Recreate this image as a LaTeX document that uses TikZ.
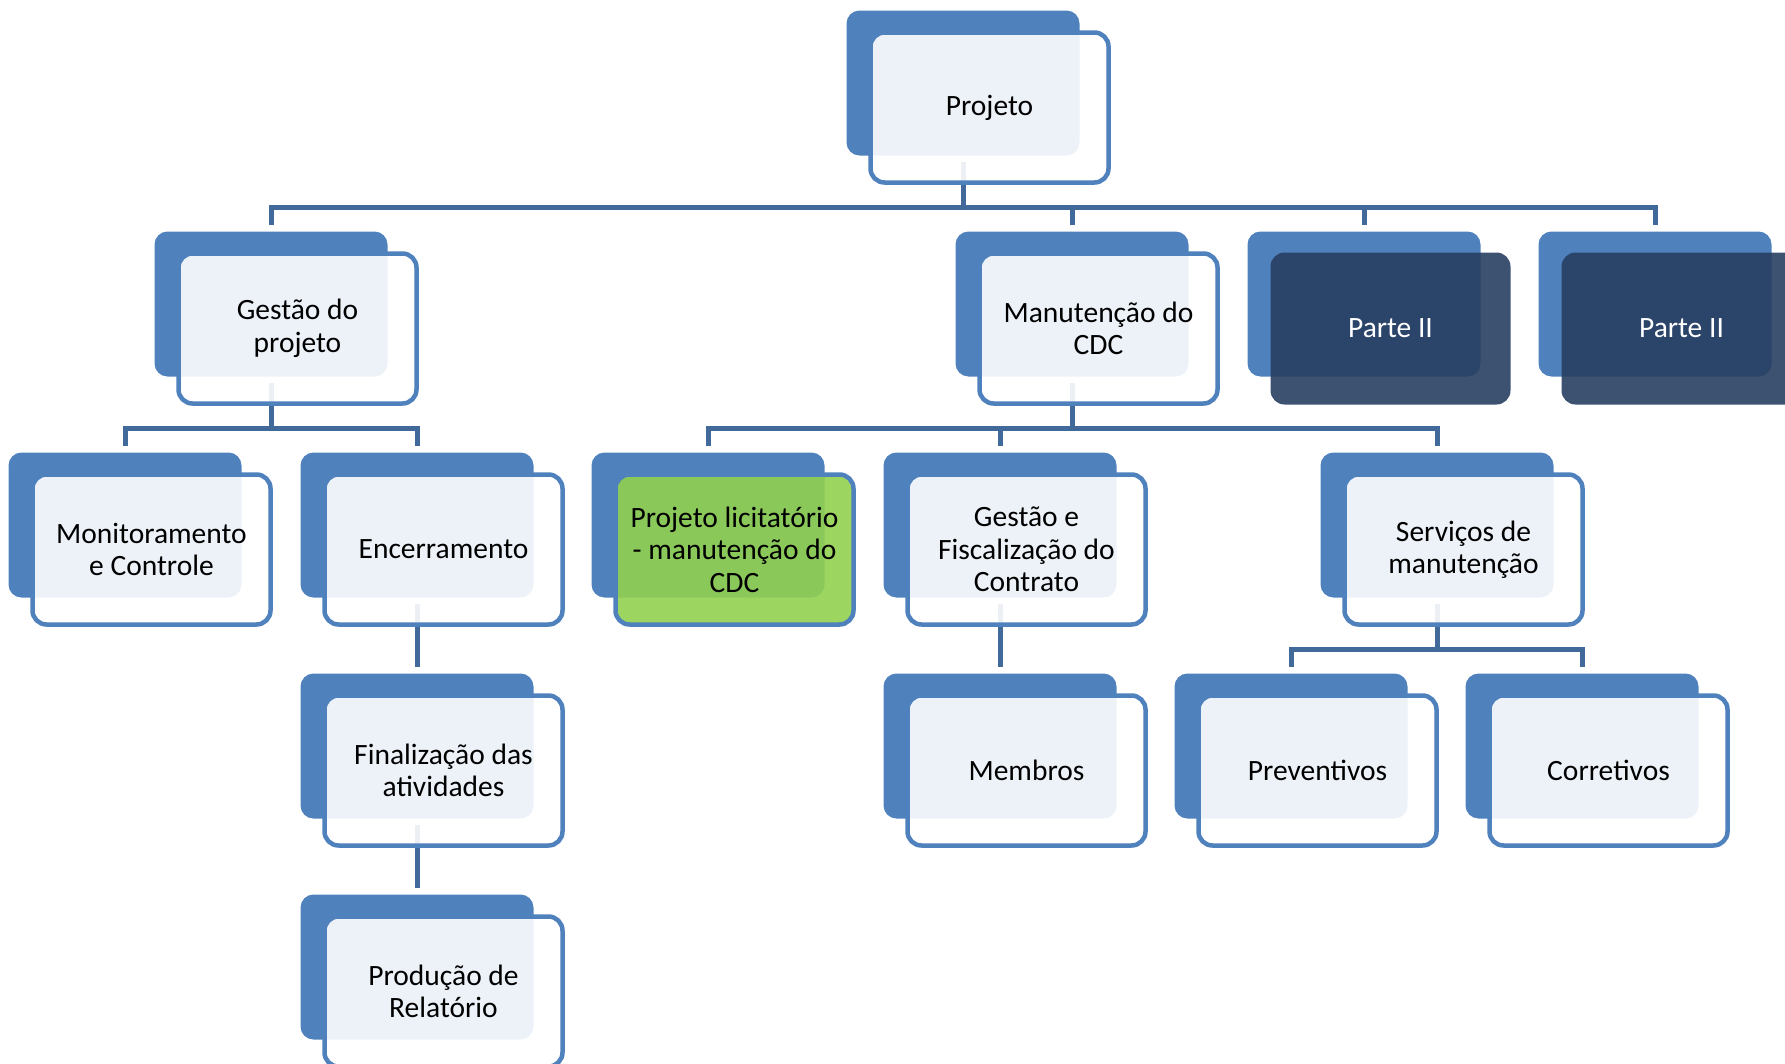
\documentclass[tikz,border=0pt]{standalone}
\usepackage{fontspec}
\setmainfont{Carlito}
\usepackage{tikz}
\usetikzlibrary{positioning}
\definecolor{boxblue}{HTML}{4F81BD}
\definecolor{linkblue}{HTML}{41699A}
\definecolor{greenfill}{HTML}{92D050}
\definecolor{navyfill}{HTML}{283E61}
\tikzset{
  backbox/.style={rectangle,rounded corners=13bp,fill=boxblue,minimum width=233bp,minimum height=145bp,inner sep=0pt},
  frontbox/.style={rectangle,rounded corners=14bp,draw=boxblue,line width=4.5bp,fill=white,fill opacity=0.9,text opacity=1,minimum width=238bp,minimum height=150bp,inner sep=0pt,align=center,font=\fontsize{29.5bp}{32.5bp}\selectfont,xshift=26.5bp,yshift=-24.5bp},
  greenfront/.style={frontbox,fill=greenfill},
  navyfront/.style={frontbox,draw=none,fill=navyfill,text=white,minimum width=240bp,minimum height=152bp},
  link/.style={draw=linkblue,line width=5bp,shorten <=6bp,shorten >=6bp},
}
\begin{document}
\begin{tikzpicture}
\useasboundingbox (0bp,0bp) rectangle (1785bp,-1064bp);
\clip (0bp,0bp) rectangle (1785bp,-1064bp);

\node (projeto) at (963bp,-83bp)[backbox] {};
\node (gestao) at (271bp,-304bp)[backbox] {};
\node (manut) at (1072bp,-304bp)[backbox] {};
\node (parteA) at (1364bp,-304bp)[backbox] {};
\node (parteB) at (1655bp,-304bp)[backbox] {};
\node (monit) at (125bp,-525bp)[backbox] {};
\node (encerr) at (417bp,-525bp)[backbox] {};
\node (licit) at (708bp,-525bp)[backbox] {};
\node (fiscal) at (1000bp,-525bp)[backbox] {};
\node (servic) at (1437bp,-525bp)[backbox] {};
\node (final) at (417bp,-746bp)[backbox] {};
\node (membros) at (1000bp,-746bp)[backbox] {};
\node (prevent) at (1291bp,-746bp)[backbox] {};
\node (corret) at (1582bp,-746bp)[backbox] {};
\node (producao) at (417bp,-967bp)[backbox] {};

\draw [link] (projeto.south) -- ++(0,-52bp) -| (gestao.north);
\draw [link] (projeto.south) -- ++(0,-52bp) -| (manut.north);
\draw [link] (projeto.south) -- ++(0,-52bp) -| (parteA.north);
\draw [link] (projeto.south) -- ++(0,-52bp) -| (parteB.north);
\draw [link] (gestao.south) -- ++(0,-52bp) -| (monit.north);
\draw [link] (gestao.south) -- ++(0,-52bp) -| (encerr.north);
\draw [link] (manut.south) -- ++(0,-52bp) -| (licit.north);
\draw [link] (manut.south) -- ++(0,-52bp) -| (fiscal.north);
\draw [link] (manut.south) -- ++(0,-52bp) -| (servic.north);
\draw [link] (encerr.south) -- (final.north);
\draw [link] (fiscal.south) -- (membros.north);
\draw [link] (servic.south) -- ++(0,-52bp) -| (prevent.north);
\draw [link] (servic.south) -- ++(0,-52bp) -| (corret.north);
\draw [link] (final.south) -- (producao.north);

\node (projeto-t) at (projeto)[frontbox] {Projeto};
\node (gestao-t) at (gestao)[frontbox] {Gestão do\\projeto};
\node (manut-t) at (manut)[frontbox] {Manutenção do\\CDC};
\node (parteA-t) at (parteA)[navyfront] {Parte II};
\node (parteB-t) at (parteB)[navyfront] {Parte II};
\node (monit-t) at (monit)[frontbox] {Monitoramento\\e Controle};
\node (encerr-t) at (encerr)[frontbox] {Encerramento};
\node (licit-t) at (licit)[greenfront] {Projeto licitatório\\- manutenção do\\CDC};
\node (fiscal-t) at (fiscal)[frontbox] {Gestão e\\Fiscalização do\\Contrato};
\node (servic-t) at (servic)[frontbox] {Serviços de\\manutenção};
\node (final-t) at (final)[frontbox] {Finalização das\\atividades};
\node (membros-t) at (membros)[frontbox] {Membros};
\node (prevent-t) at (prevent)[frontbox] {Preventivos};
\node (corret-t) at (corret)[frontbox] {Corretivos};
\node (producao-t) at (producao)[frontbox] {Produção de\\Relatório};
\end{tikzpicture}
\end{document}
